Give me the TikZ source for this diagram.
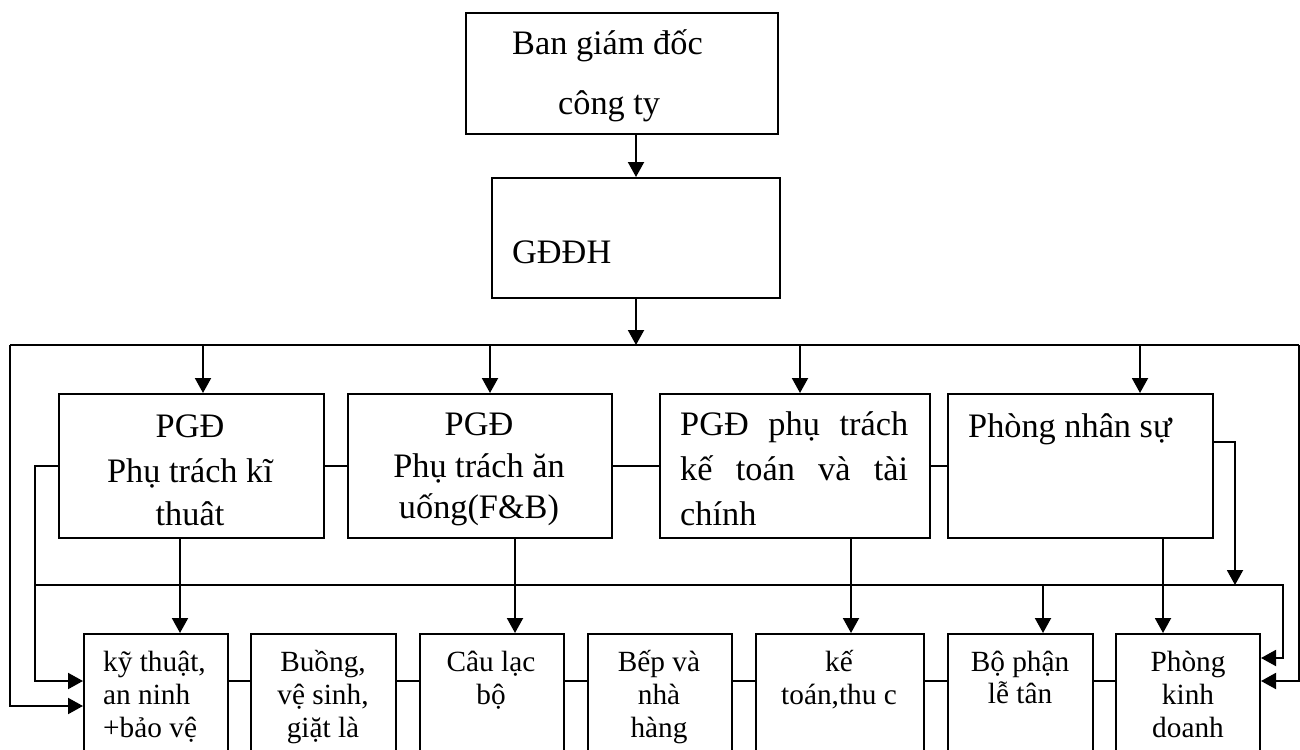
\documentclass[tikz,border=0pt]{standalone}
\usepackage{fontspec}
\setmainfont{Liberation Serif}
\usetikzlibrary{arrows.meta}
\begin{document}
\begin{tikzpicture}[x=1pt,y=-1pt,
  box/.style={draw,line width=2pt,rectangle,inner sep=0pt,anchor=north west},
  ln/.style={line width=2pt},
  arr/.style={line width=2pt,-{Triangle[length=15pt,width=16pt]}},
  big/.style={font=\fontsize{34.3}{38}\selectfont,inner sep=0pt},
  sm/.style={font=\fontsize{29.3}{33}\selectfont,inner sep=0pt},
  c/.style={anchor=base},
  l/.style={anchor=base west}]
\clip (0,0) rectangle (1300,749);
\fill[white] (0,0) rectangle (1300,749);
% boxes
\node[box,minimum width=312pt,minimum height=121pt] (top) at (465,12) {};
\node[box,minimum width=288pt,minimum height=120pt] (gd) at (491,177) {};
\node[box,minimum width=265pt,minimum height=144pt] (A) at (58,393) {};
\node[box,minimum width=264pt,minimum height=144pt] (B) at (347,393) {};
\node[box,minimum width=270pt,minimum height=144pt] (C) at (659,393) {};
\node[box,minimum width=265pt,minimum height=144pt] (D) at (947,393) {};
\node[box,minimum width=144pt,minimum height=150pt] (r1) at (83,633) {};
\node[box,minimum width=145pt,minimum height=150pt] (r2) at (250,633) {};
\node[box,minimum width=144pt,minimum height=150pt] (r3) at (419,633) {};
\node[box,minimum width=144pt,minimum height=150pt] (r4) at (587,633) {};
\node[box,minimum width=168pt,minimum height=150pt] (r5) at (755,633) {};
\node[box,minimum width=145pt,minimum height=150pt] (r6) at (947,633) {};
\node[box,minimum width=144pt,minimum height=150pt] (r7) at (1115,633) {};
% texts
\node[big,l] (t1) at (512,55) {Ban giám đốc};
\node[big,l] (t2) at (558,115) {công ty};
\node[big,l] (t3) at (512,263) {GĐĐH};
\node[big,c] (a1) at (190,437) {PGĐ};
\node[big,c] (a2) at (190,482) {Phụ trách kĩ};
\node[big,c] (a3) at (190,525) {thuât};
\node[big,c] (b1) at (479,435) {PGĐ};
\node[big,c] (b2) at (479,477) {Phụ trách ăn};
\node[big,c] (b3) at (479,518) {uống(F\&B)};
\node[big,l] (c1) at (680,435) {\makebox[228pt][s]{PGĐ phụ trách}};
\node[big,l] (c2) at (680,480) {\makebox[228pt][s]{kế toán và tài}};
\node[big,l] (c3) at (680,525) {chính};
\node[big,l] (d1) at (968,437) {Phòng nhân sự};
\node[sm,l] (p1) at (103,671) {kỹ thuật,};
\node[sm,l] (p2) at (103,704) {an ninh};
\node[sm,l] (p3) at (103,737) {+bảo vệ};
\node[sm,c] (q1) at (323,671) {Buồng,};
\node[sm,c] (q2) at (323,704) {vệ sinh,};
\node[sm,c] (q3) at (323,737) {giặt là};
\node[sm,c] (s1) at (491,671) {Câu lạc};
\node[sm,c] (s2) at (491,704) {bộ};
\node[sm,c] (u1) at (659,671) {Bếp và};
\node[sm,c] (u2) at (659,704) {nhà};
\node[sm,c] (u3) at (659,737) {hàng};
\node[sm,c] (v1) at (839,671) {kế};
\node[sm,c] (v2) at (839,704) {toán,thu c};
\node[sm,c] (w1) at (1020,671) {Bộ phận};
\node[sm,c] (w2) at (1020,703) {lễ tân};
\node[sm,c] (z1) at (1188,671) {Phòng};
\node[sm,c] (z2) at (1188,704) {kinh};
\node[sm,c] (z3) at (1188,737) {doanh};
% bus coordinates
\coordinate (busL) at (10,345);
\coordinate (busR) at (1299,345);
\coordinate (bus2L) at (35,585);
\coordinate (bus2R) at (1283,585);
% connectors
\draw[arr] (top.south -| gd.north) -- (gd.north);
\draw[arr] (gd.south) -- (gd.south |- busL);
\draw[ln] (busL) -- (busR);
\draw[arr] (203,345) -- (203,345 |- A.north);
\draw[arr] (490,345) -- (490,345 |- B.north);
\draw[arr] (800,345) -- (800,345 |- C.north);
\draw[arr] (1140,345) -- (1140,345 |- D.north);
\draw[ln] (A.east) -- (B.west);
\draw[ln] (B.east) -- (C.west);
\draw[ln] (C.east) -- (D.west);
\draw[arr] (busL) |- (r1.west |- 0,706);
\draw[arr] (busR) |- (r7.east |- 0,681);
\draw[arr] (A.west) -| (bus2L) |- (r1.west |- 0,681);
\draw[arr] (bus2L) -- (bus2R) |- (r7.east |- 0,658);
\draw[arr] (D.east |- 0,442) -| (1235,585);
\draw[arr] (180,537) -- (180,537 |- r1.north);
\draw[arr] (515,537) -- (515,537 |- r3.north);
\draw[arr] (851,537) -- (851,537 |- r5.north);
\draw[arr] (1163,537) -- (1163,537 |- r7.north);
\draw[arr] (1043,585) -- (1043,585 |- r6.north);
\draw[ln] (r1.east |- 0,681) -- (r2.west |- 0,681);
\draw[ln] (r2.east |- 0,681) -- (r3.west |- 0,681);
\draw[ln] (r3.east |- 0,681) -- (r4.west |- 0,681);
\draw[ln] (r4.east |- 0,681) -- (r5.west |- 0,681);
\draw[ln] (r5.east |- 0,681) -- (r6.west |- 0,681);
\draw[ln] (r6.east |- 0,681) -- (r7.west |- 0,681);
\end{tikzpicture}
\end{document}
